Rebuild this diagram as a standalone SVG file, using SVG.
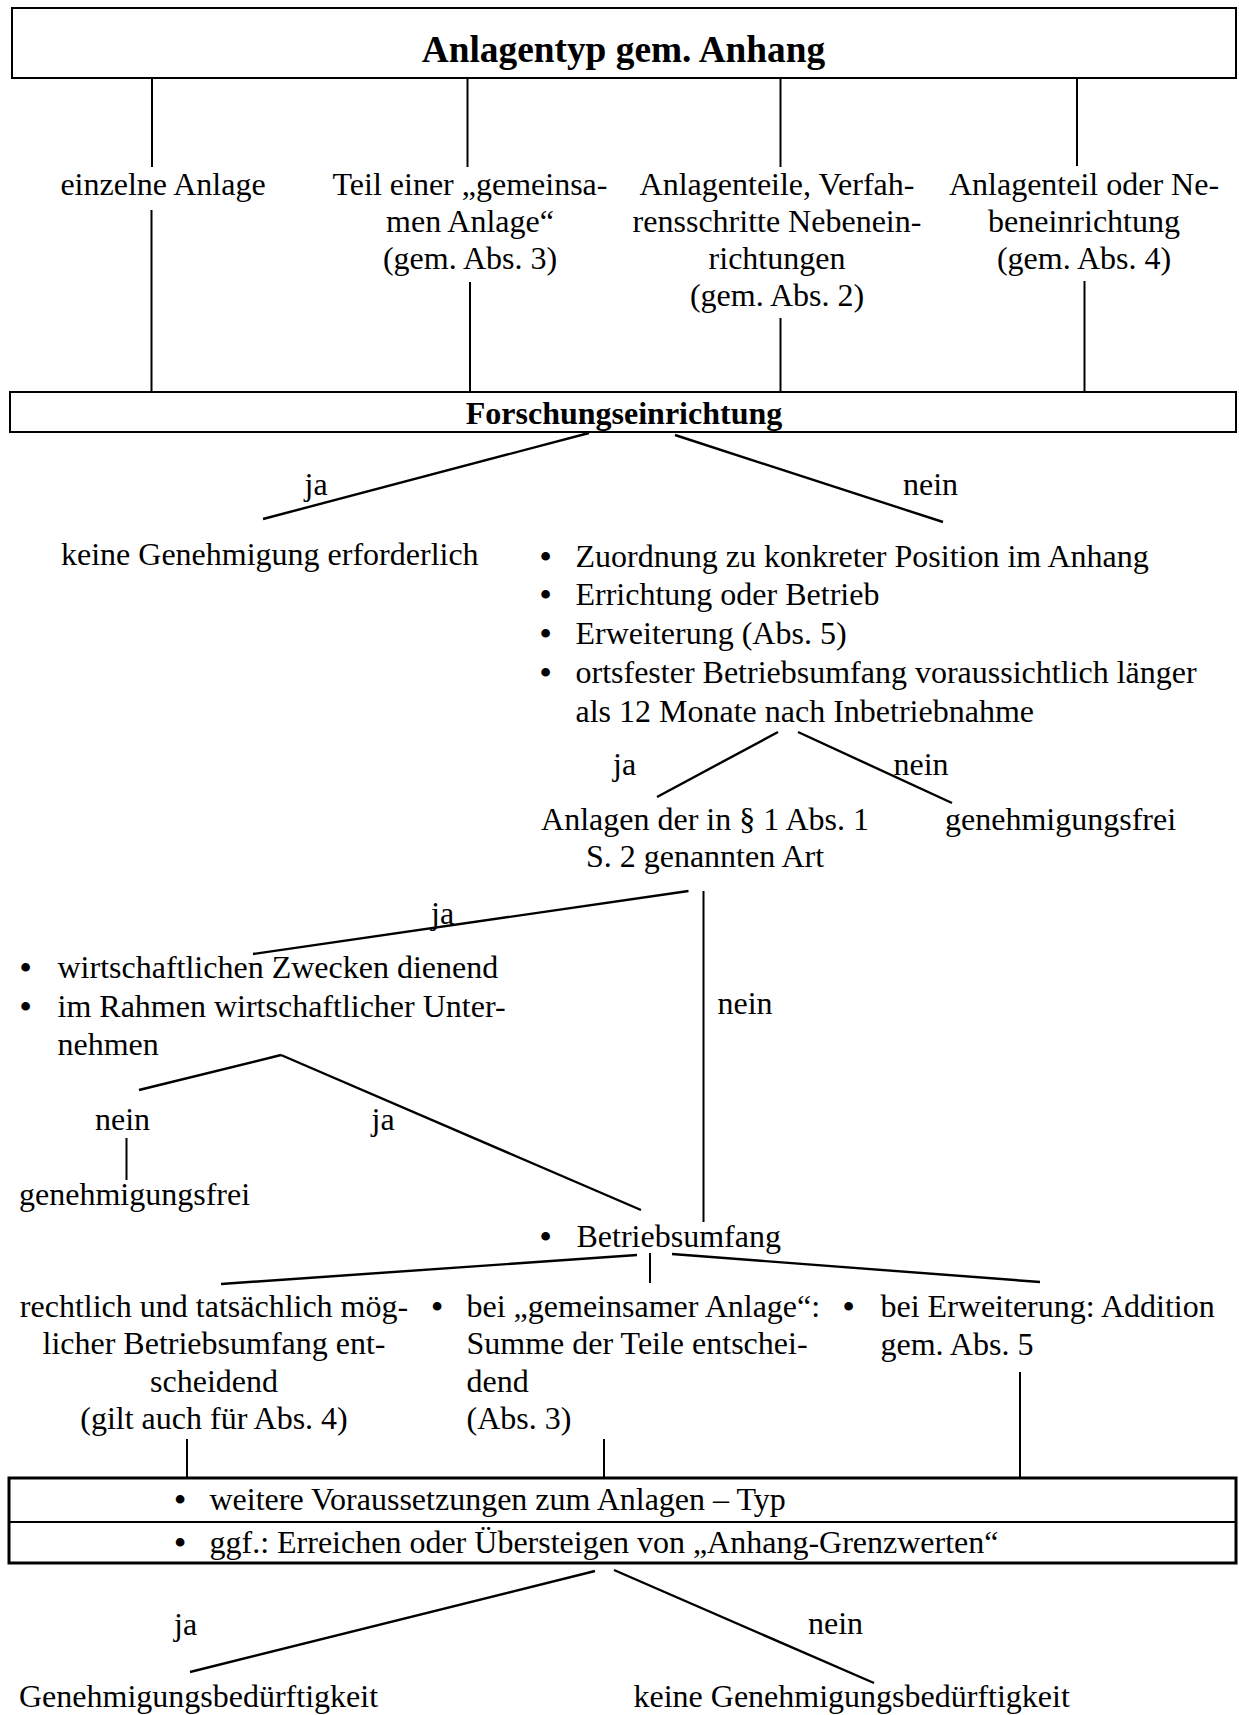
<svg xmlns="http://www.w3.org/2000/svg" width="1239" height="1715" viewBox="0 0 1239 1715">
<style>
text{font-family:"Liberation Serif","Times New Roman",serif;font-size:32px;fill:#000}
.c{text-anchor:middle}
.b{font-weight:bold}
.t{font-size:37.33px}
.bu{font-weight:bold}
.box{fill:#fff;stroke:#000;stroke-width:2}
.box3{fill:#fff;stroke:#000;stroke-width:3}
.ln{stroke:#000;stroke-width:2;fill:none}
.dg{stroke:#000;stroke-width:2.4;fill:none}
</style>
<rect width="1239" height="1715" fill="#fff"/>
<g id="connectors">
<line class="ln" x1="152" y1="79" x2="152" y2="167"/>
<line class="ln" x1="467.5" y1="79" x2="467.5" y2="167"/>
<line class="ln" x1="780.5" y1="79" x2="780.5" y2="167"/>
<line class="ln" x1="1077" y1="79" x2="1077" y2="166"/>
<line class="ln" x1="151.5" y1="210" x2="151.5" y2="391"/>
<line class="ln" x1="470" y1="282" x2="470" y2="391"/>
<line class="ln" x1="780.5" y1="318" x2="780.5" y2="391"/>
<line class="ln" x1="1084.5" y1="281" x2="1084.5" y2="391"/>
<line class="dg" x1="589" y1="433" x2="263" y2="519"/>
<line class="dg" x1="675" y1="435" x2="943" y2="522"/>
<line class="dg" x1="778" y1="732" x2="657" y2="797"/>
<line class="dg" x1="798" y1="732" x2="952" y2="803"/>
<line class="dg" x1="688.5" y1="891" x2="253" y2="954"/>
<line class="ln" x1="703.5" y1="891" x2="703.5" y2="1222"/>
<line class="dg" x1="281" y1="1055" x2="139" y2="1090"/>
<line class="dg" x1="281" y1="1055" x2="641" y2="1210"/>
<line class="ln" x1="126.5" y1="1138" x2="126.5" y2="1180"/>
<line class="dg" x1="637" y1="1255" x2="221" y2="1284"/>
<line class="ln" x1="650" y1="1253" x2="650" y2="1283"/>
<line class="dg" x1="672" y1="1254" x2="1040" y2="1282"/>
<line class="ln" x1="187" y1="1439" x2="187" y2="1477"/>
<line class="ln" x1="604" y1="1439" x2="604" y2="1477"/>
<line class="ln" x1="1020" y1="1372" x2="1020" y2="1477"/>
<line class="dg" x1="595" y1="1571" x2="190" y2="1672"/>
<line class="dg" x1="614" y1="1570" x2="874" y2="1683"/>
</g>
<g id="anlagentyp">
<rect class="box" x="12" y="8" width="1224" height="70"/>
<text class="c b t" x="623.5" y="62">Anlagentyp gem. Anhang</text>
</g>
<g id="einzelne-anlage">
<text class="c" x="163" y="194.5">einzelne Anlage</text>
</g>
<g id="teil-gemeinsame-anlage">
<text class="c" x="470" y="194.5">Teil einer „gemeinsa-</text>
<text class="c" x="470" y="231.5">men Anlage“</text>
<text class="c" x="470" y="268.5">(gem. Abs. 3)</text>
</g>
<g id="anlagenteile">
<text class="c" x="777" y="194.5">Anlagenteile, Verfah-</text>
<text class="c" x="777" y="231.5">rensschritte Nebenein-</text>
<text class="c" x="777" y="268.5">richtungen</text>
<text class="c" x="777" y="305.5">(gem. Abs. 2)</text>
</g>
<g id="anlagenteil-nebeneinrichtung">
<text class="c" x="1084" y="194.5">Anlagenteil oder Ne-</text>
<text class="c" x="1084" y="231.5">beneinrichtung</text>
<text class="c" x="1084" y="268.5">(gem. Abs. 4)</text>
</g>
<g id="forschungseinrichtung">
<rect class="box" x="10" y="392" width="1226" height="40"/>
<text class="c b" x="624" y="424">Forschungseinrichtung</text>
</g>
<g id="labels-forschung">
<text x="304.5" y="495">ja</text>
<text x="903" y="495">nein</text>
</g>
<g id="keine-genehmigung">
<text x="61" y="564.5">keine Genehmigung erforderlich</text>
</g>
<g id="zuordnung">
<text x="540" y="566.5"><tspan class="bu">•</tspan><tspan x="575.5">Zuordnung zu konkreter Position im Anhang</tspan></text>
<text x="540" y="605"><tspan class="bu">•</tspan><tspan x="575.5">Errichtung oder Betrieb</tspan></text>
<text x="540" y="644"><tspan class="bu">•</tspan><tspan x="575.5">Erweiterung (Abs. 5)</tspan></text>
<text x="540" y="683"><tspan class="bu">•</tspan><tspan x="575.5">ortsfester Betriebsumfang voraussichtlich länger</tspan></text>
<text x="575.5" y="721.5">als 12 Monate nach Inbetriebnahme</text>
</g>
<g id="labels-zuordnung">
<text x="613" y="775">ja</text>
<text x="893.5" y="775">nein</text>
</g>
<g id="anlagen-art">
<text class="c" x="705" y="830">Anlagen der in § 1 Abs. 1</text>
<text class="c" x="705" y="867">S. 2 genannten Art</text>
</g>
<g id="genehmigungsfrei-1">
<text x="945" y="830">genehmigungsfrei</text>
</g>
<g id="labels-anlagen">
<text x="431" y="923.5">ja</text>
<text x="717.5" y="1013.5">nein</text>
</g>
<g id="wirtschaftlich">
<text x="20" y="977.5"><tspan class="bu">•</tspan><tspan x="57.5">wirtschaftlichen Zwecken dienend</tspan></text>
<text x="20" y="1016.5"><tspan class="bu">•</tspan><tspan x="57.5">im Rahmen wirtschaftlicher Unter-</tspan></text>
<text x="57.5" y="1055">nehmen</text>
</g>
<g id="labels-wirtschaftlich">
<text x="95" y="1130">nein</text>
<text x="371.5" y="1130">ja</text>
</g>
<g id="genehmigungsfrei-2">
<text x="19" y="1205">genehmigungsfrei</text>
</g>
<g id="betriebsumfang">
<text x="540" y="1246.5"><tspan class="bu">•</tspan><tspan x="576.5">Betriebsumfang</tspan></text>
</g>
<g id="rechtlich-moeglich">
<text class="c" x="214" y="1316.5">rechtlich und tatsächlich mög-</text>
<text class="c" x="214" y="1354">licher Betriebsumfang ent-</text>
<text class="c" x="214" y="1391.5">scheidend</text>
<text class="c" x="214" y="1428.5">(gilt auch für Abs. 4)</text>
</g>
<g id="gemeinsame-anlage">
<text x="431.5" y="1316.5"><tspan class="bu">•</tspan><tspan x="466.5">bei „gemeinsamer Anlage“:</tspan></text>
<text x="466.5" y="1354">Summe der Teile entschei-</text>
<text x="466.5" y="1391.5">dend</text>
<text x="466.5" y="1428.5">(Abs. 3)</text>
</g>
<g id="erweiterung">
<text x="843" y="1316.5"><tspan class="bu">•</tspan><tspan x="880.5">bei Erweiterung: Addition</tspan></text>
<text x="880.5" y="1354.5">gem. Abs. 5</text>
</g>
<g id="voraussetzungen">
<rect class="box3" x="9" y="1478" width="1227" height="85"/>
<line class="ln" x1="9" y1="1522" x2="1236" y2="1522"/>
<text x="174.5" y="1509.5"><tspan class="bu">•</tspan><tspan x="209.5">weitere Voraussetzungen zum Anlagen – Typ</tspan></text>
<text x="174.5" y="1552.5"><tspan class="bu">•</tspan><tspan x="209.5">ggf.: Erreichen oder Übersteigen von „Anhang-Grenzwerten“</tspan></text>
</g>
<g id="labels-voraussetzungen">
<text x="174" y="1635">ja</text>
<text x="808" y="1634">nein</text>
</g>
<g id="genehmigungsbeduerftigkeit">
<text x="19" y="1706.5">Genehmigungsbedürftigkeit</text>
</g>
<g id="keine-genehmigungsbeduerftigkeit">
<text x="633.5" y="1706.5">keine Genehmigungsbedürftigkeit</text>
</g>
</svg>
